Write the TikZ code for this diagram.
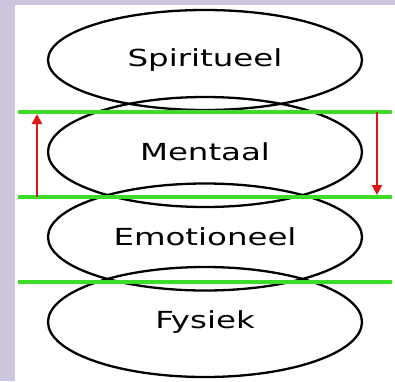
\documentclass[tikz,border=0pt]{standalone}
\usepackage{fontspec}
\newfontfamily\layerfont[FakeStretch=1.38]{DejaVu Sans}
\usetikzlibrary{arrows.meta,shapes.geometric}
\definecolor{lavender}{HTML}{CEC6DF}
\definecolor{linegreen}{HTML}{3CDC28}
\definecolor{arrowred}{HTML}{DD1515}

\begin{document}
\begin{tikzpicture}[
  x=1pt,y=-1pt,
  layer/.style={draw,ellipse,line width=2.3pt,minimum width=314pt,inner sep=0pt,
    font=\layerfont\fontsize{23.5}{26}\selectfont},
  border/.style={linegreen,line width=3.8pt},
  arr/.style={arrowred,line width=2.2pt,-{Triangle[width=10pt,length=10pt]}}
]
% background
\fill[lavender] (0,0) rectangle (395,381);
\fill[white] (15,5) rectangle (395,381);
\useasboundingbox (0,0) rectangle (395,381);

% layers
\node[layer, minimum height=100pt] (spirit) at (205,60) {Spiritueel};
\node[layer, minimum height=110pt] (mental) at (205,152) {Mentaal};
\node[layer, minimum height=107pt] (emotion) at (205,237) {Emotioneel};
\node[layer, minimum height=110pt] (body) at (205,322) {Fysiek};

% green borders
\coordinate (b1l) at (18,112);  \coordinate (b1r) at (392,112);
\coordinate (b2l) at (18,197);  \coordinate (b2r) at (392,197);
\coordinate (b3l) at (18,282);  \coordinate (b3r) at (392,282);
\draw[border] (b1l) -- (b1r);
\draw[border] (b2l) -- (b2r);
\draw[border] (b3l) -- (b3r);

% arrows
\coordinate (upfrom) at (37,197);  \coordinate (upto) at (37,114);
\coordinate (downfrom) at (377,112);  \coordinate (downto) at (377,195);
\draw[arr] (upfrom) -- (upto);
\draw[arr] (downfrom) -- (downto);
\end{tikzpicture}
\end{document}
